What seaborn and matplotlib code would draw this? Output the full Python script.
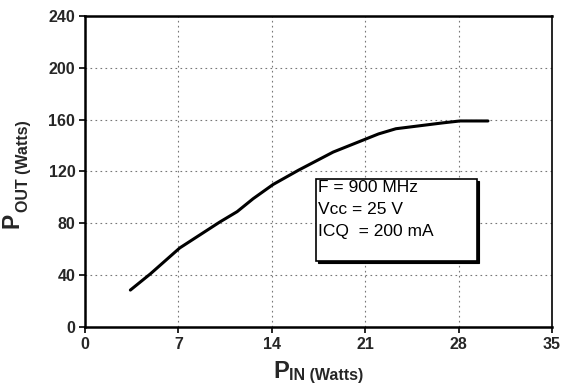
import matplotlib
matplotlib.use("Agg")
import matplotlib.pyplot as plt
import seaborn as sns
import pandas as pd
from matplotlib.patches import Rectangle

pin = [3.4, 4.9, 7.1, 10.1, 11.4, 12.6, 14.1, 16.0, 18.6, 22.0, 23.3, 26.8, 28.1, 30.2]
pout = [28.5, 41, 61, 81, 89, 99, 110, 121, 135, 149, 153, 157.5, 159, 159]
xticks = [0, 7, 14, 21, 28, 35]
yticks = [0, 40, 80, 120, 160, 200, 240]
info_lines = ["F = 900 MHz", "Vcc = 25 V", "ICQ  = 200 mA"]

sns.set_theme(style="white")
plt.rcParams['font.family'] = ['Liberation Sans', 'DejaVu Sans']

df = pd.DataFrame({"pin": pin, "pout": pout})

fig = plt.figure(figsize=(5.62, 3.85), dpi=100)
ax = fig.add_axes([85/562, 1-327/385, (552-85)/562, (327-16)/385])

sns.lineplot(data=df, x="pin", y="pout", ax=ax, color="black", linewidth=2.2)

ax.set_xlim(0, 35)
ax.set_ylim(0, 240)
ax.set_xticks(xticks)
ax.set_yticks(yticks)
ax.set_xticklabels([str(v) for v in xticks], fontsize=11.5, fontweight="bold")
ax.set_yticklabels([str(v) for v in yticks], fontsize=11.5, fontweight="bold")
ax.tick_params(axis="both", direction="out", length=4, width=1.2, color="black", pad=3,
               bottom=True, left=True)
ax.grid(True, color="#777777", linestyle=(0, (1.5, 3)), linewidth=0.8)
ax.set_xlabel("")
ax.set_ylabel("")

for side in ["left", "bottom", "top"]:
    ax.spines[side].set_linewidth(1.8)
    ax.spines[side].set_color("black")
ax.spines["right"].set_linewidth(1.2)
ax.spines["right"].set_color("black")

# info box with shadow
x0, x1 = 17.3, 29.4
y0, y1 = 51, 114
ax.add_patch(Rectangle((x0 + 0.15, y0 - 1.3), x1 - x0, y1 - y0, facecolor="black",
                       edgecolor="black", linewidth=0.8, zorder=4))
ax.add_patch(Rectangle((x0, y0), x1 - x0, y1 - y0, facecolor="white",
                       edgecolor="black", linewidth=1.2, zorder=5))
for i, line in enumerate(info_lines):
    ax.text(x0 + 0.2, 108 - i * 17, line, fontsize=12.5, va="center", ha="left",
            zorder=6, color="black")

# axis labels (large P with small subscript)
fig.text(273/562, 1-378/385, "P", fontsize=17, fontweight="bold", ha="left", va="baseline")
fig.text(289/562, 1-380/385, "IN (Watts)", fontsize=11.5, fontweight="bold", ha="left", va="baseline")

fig.text(24/562, 1-228/385, "P", fontsize=16.5, fontweight="bold", rotation=90,
         ha="right", va="bottom")
fig.text(31/562, 1-212/385, "OUT (Watts)", fontsize=11.5, fontweight="bold", rotation=90,
         ha="right", va="bottom")

fig.savefig("out.png", dpi=100)
